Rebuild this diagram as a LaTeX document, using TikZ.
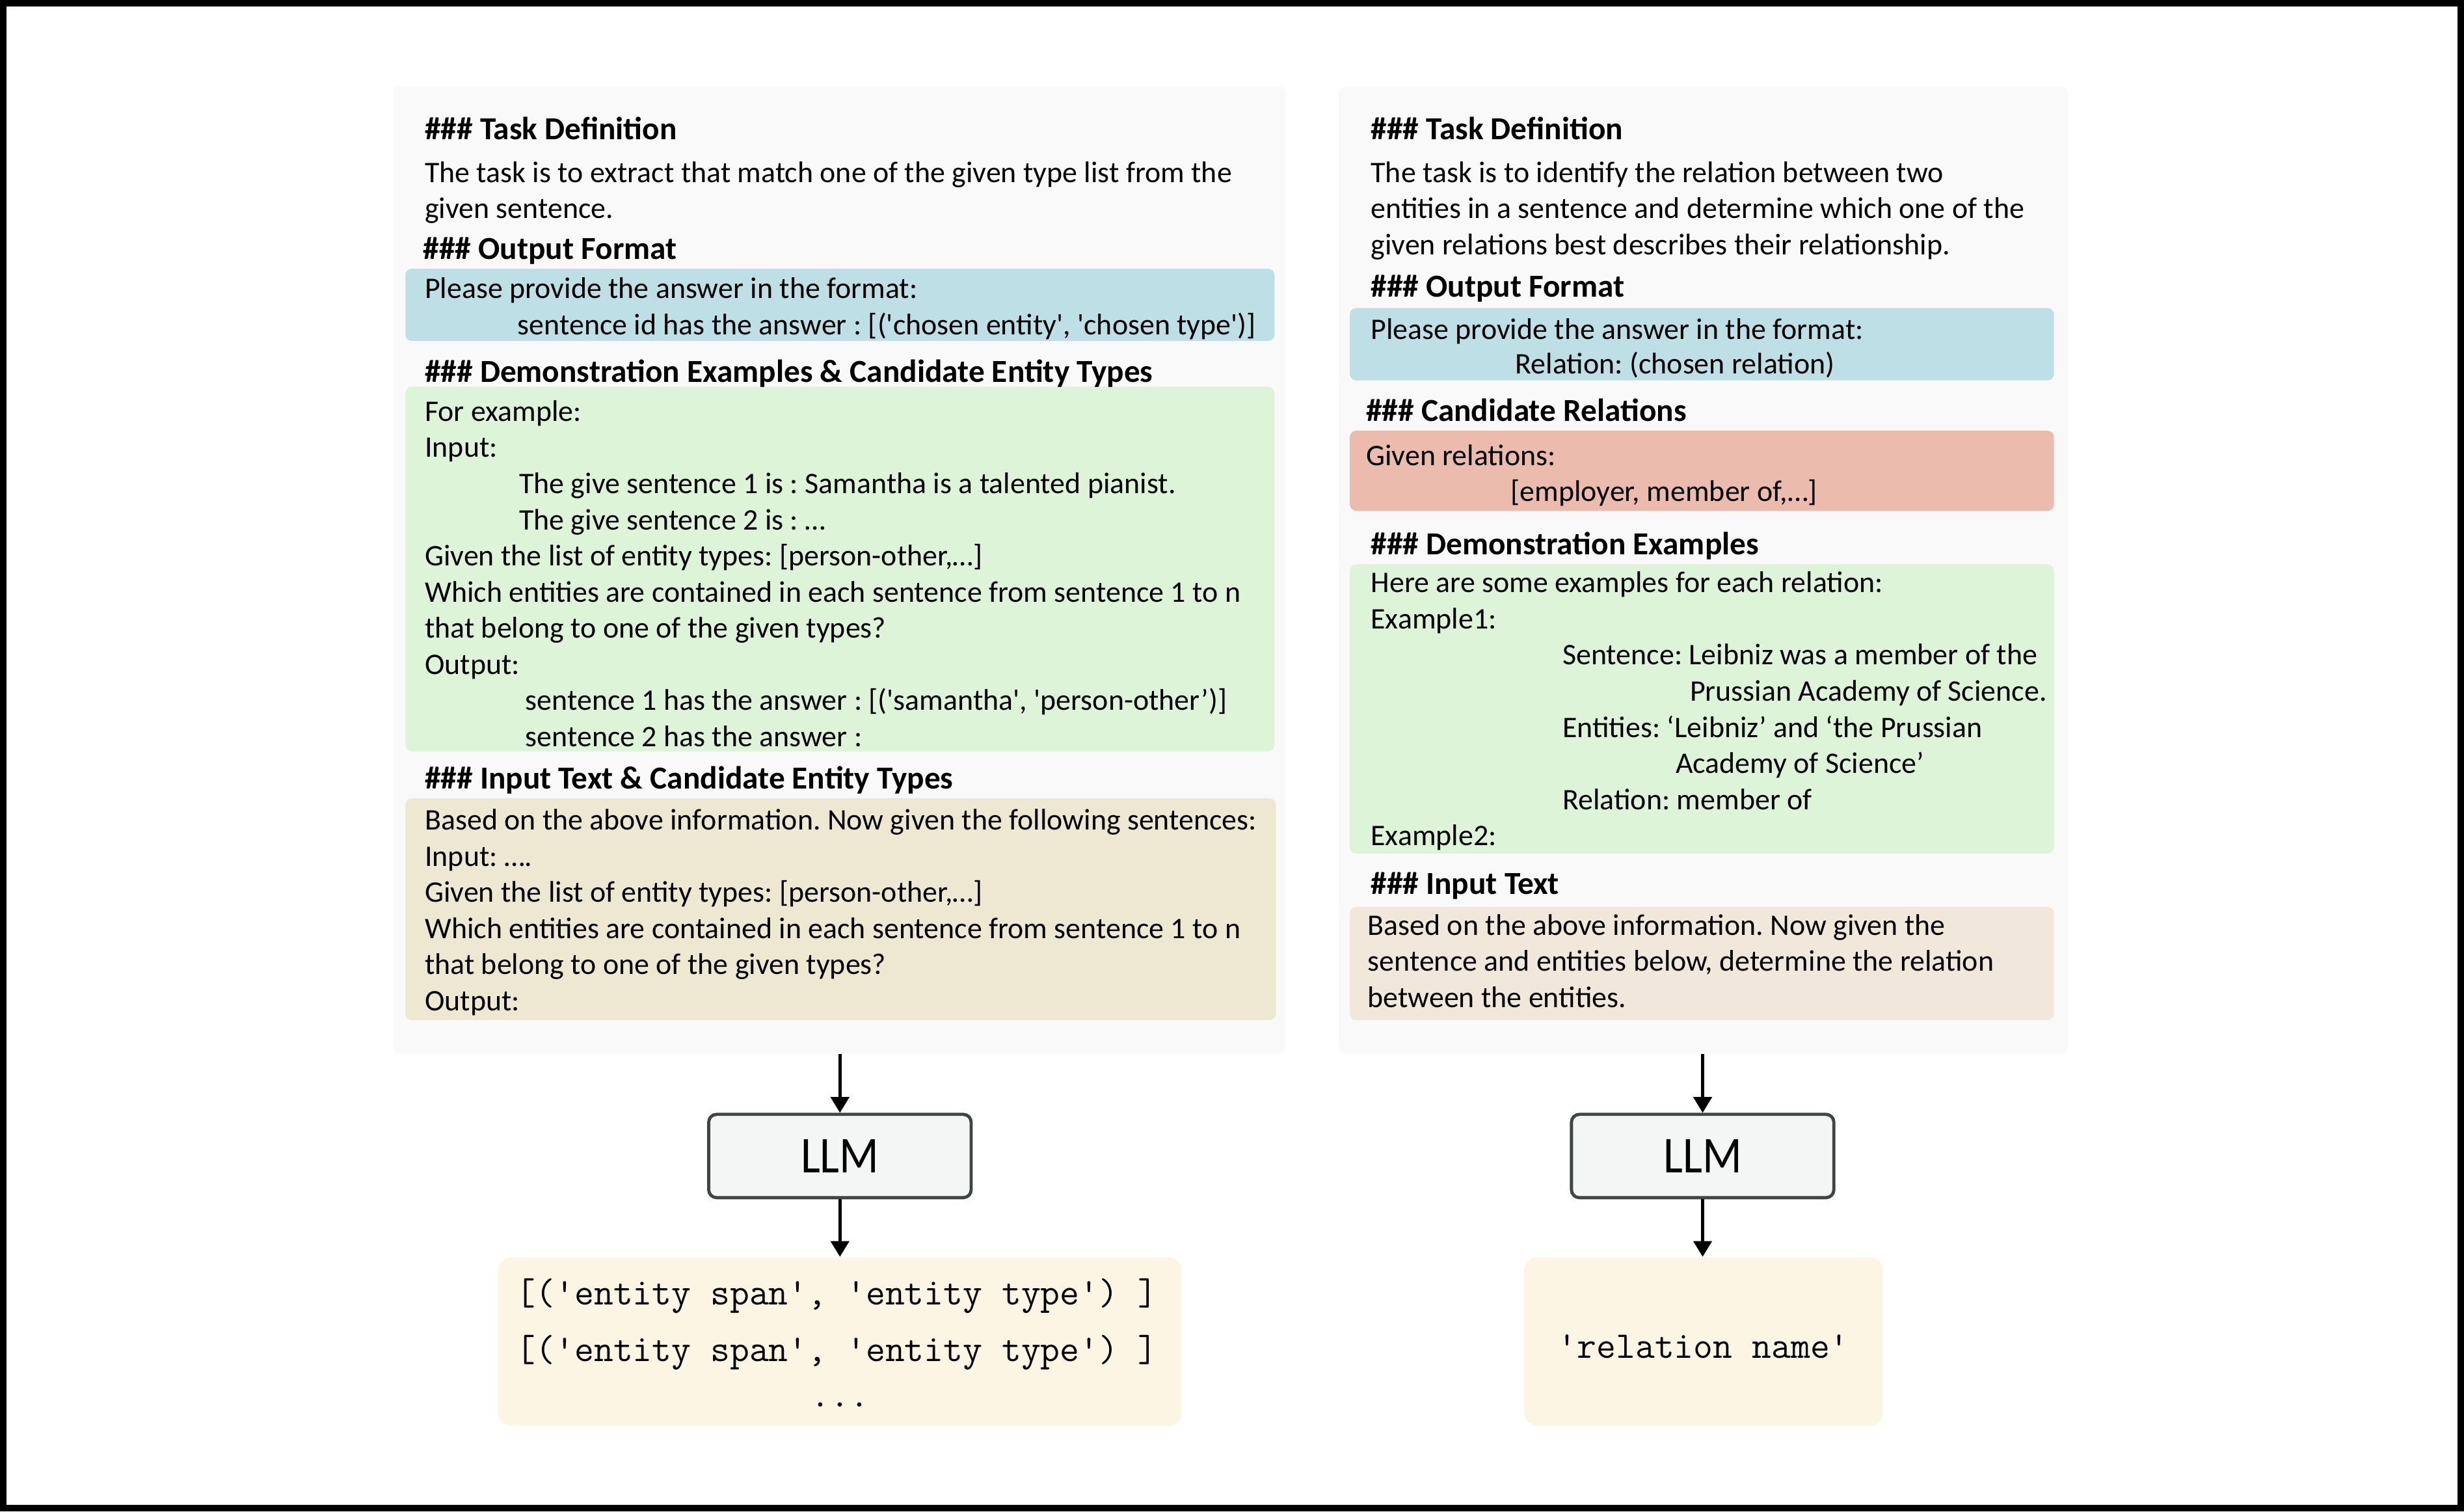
\documentclass[tikz,border=0pt]{standalone}
\usepackage{fontspec}
\setmainfont{Carlito}[Ligatures=TeXOff]
\usetikzlibrary{arrows.meta,fit}
\definecolor{panelbg}{HTML}{F9F9F9}
\definecolor{bluebox}{HTML}{BEDFE6}
\definecolor{greenbox}{HTML}{DDF4D8}
\definecolor{tanL}{HTML}{EEE8D2}
\definecolor{tanR}{HTML}{F1E8DB}
\definecolor{redbox}{HTML}{EBBBAE}
\definecolor{outbg}{HTML}{FDF5E3}
\definecolor{llmfill}{HTML}{F4F6F5}
\definecolor{llmdraw}{HTML}{3E4545}
\newcommand\fsz{\fontsize{9.5}{11.5}\selectfont\frenchspacing}
\newcommand\hsz{\fontsize{10.2}{12}\selectfont\bfseries\frenchspacing}
\begin{document}
\begin{tikzpicture}[x=0.5pt,y=-0.5pt,
  txt/.style={anchor=base west,inner sep=0pt,font=\fsz},
  hd/.style={anchor=base west,inner sep=0pt,font=\hsz},
  panel/.style={inner sep=0pt,fill=panelbg,rounded corners=2pt},
  bx/.style={inner sep=0pt,rounded corners=2pt},
  outbox/.style={inner sep=0pt,fill=outbg,rounded corners=4pt},
  llm/.style={draw=llmdraw,line width=1pt,fill=llmfill,rounded corners=2.5pt,
    minimum width=83.5pt,minimum height=26.5pt,inner sep=0pt,
    font=\fontsize{14.7}{16}\selectfont},
  mono/.style={anchor=base,inner sep=0pt,font=\ttfamily\fontsize{12}{13}\selectfont},
  arr/.style={line width=1pt,-{Triangle[length=5pt,width=5.8pt]}}]
\useasboundingbox (0,0) rectangle (1568,961.6);
\draw[line width=2pt] (2,2) rectangle (1566,959.6);
% ---------------- left panel ----------------
\node[panel,fit={(250,55)(818,670)}] (lp) {};
\node[bx,fill=bluebox,fit={(258,171)(811,217)}] (lblue) {};
\node[bx,fill=greenbox,fit={(258,246)(811,478)}] (lgreen) {};
\node[bx,fill=tanL,fit={(258,508)(812,649)}] (ltan) {};
\node[hd] (l1) at (270,89) {\#\#\# Task Definition};
\node[txt] (l2) at (270,116) {The task is to extract that match one of the given type list from the};
\node[txt] (l3) at (270,139) {given sentence.};
\node[hd] (l4) at (269,165) {\#\#\# Output Format};
\node[txt] (l5) at (270,190) {Please provide the answer in the format:};
\node[txt] (l6) at (329,213) {sentence id has the answer : [('chosen entity', 'chosen type')]};
\node[hd] (l7) at (270,243) {\#\#\# Demonstration Examples \& Candidate Entity Types};
\node[txt] (l8) at (270,268) {For example:};
\node[txt] (l9) at (270,291) {Input:};
\node[txt] (l10) at (330,314) {The give sentence 1 is : Samantha is a talented pianist.};
\node[txt] (l11) at (330,337) {The give sentence 2 is : …};
\node[txt] (l12) at (270,360) {Given the list of entity types: [person-other,…]};
\node[txt] (l13) at (270,383) {Which entities are contained in each sentence from sentence 1 to n};
\node[txt] (l14) at (270,406) {that belong to one of the given types?};
\node[txt] (l15) at (270,429) {Output:};
\node[txt] (l16) at (334,452) {sentence 1 has the answer : [('samantha', 'person-other’)]};
\node[txt] (l17) at (334,475) {sentence 2 has the answer :};
\node[hd] (l18) at (270,502) {\#\#\# Input Text \& Candidate Entity Types};
\node[txt] (l19) at (270,528) {Based on the above information. Now given the following sentences:};
\node[txt] (l20) at (270,551) {Input: ….};
\node[txt] (l21) at (270,574) {Given the list of entity types: [person-other,…]};
\node[txt] (l22) at (270,597) {Which entities are contained in each sentence from sentence 1 to n};
\node[txt] (l23) at (270,620) {that belong to one of the given types?};
\node[txt] (l24) at (270,643) {Output:};
% ---------------- right panel ----------------
\node[panel,fit={(852,55)(1316,670)}] (rp) {};
\node[bx,fill=bluebox,fit={(859,196)(1307,242)}] (rblue) {};
\node[bx,fill=redbox,fit={(859,274)(1307,325)}] (rred) {};
\node[bx,fill=greenbox,fit={(859,359)(1307,543)}] (rgreen) {};
\node[bx,fill=tanR,fit={(859,577)(1307,649)}] (rtan) {};
\node[hd] (r1) at (872,89) {\#\#\# Task Definition};
\node[txt] (r2) at (872,116) {The task is to identify the relation between two};
\node[txt] (r3) at (872,139) {entities in a sentence and determine which one of the};
\node[txt] (r4) at (872,162) {given relations best describes their relationship.};
\node[hd] (r5) at (872,189) {\#\#\# Output Format};
\node[txt] (r6) at (872,216) {Please provide the answer in the format:};
\node[txt] (r7) at (964,238) {Relation: (chosen relation)};
\node[hd] (r8) at (869,268) {\#\#\# Candidate Relations};
\node[txt] (r9) at (869,296) {Given relations:};
\node[txt] (r10) at (961,319) {[employer, member of,…]};
\node[hd] (r11) at (872,353) {\#\#\# Demonstration Examples};
\node[txt] (r12) at (872,377) {Here are some examples for each relation:};
\node[txt] (r13) at (872,400) {Example1:};
\node[txt] (r14) at (994,423) {Sentence: Leibniz was a member of the};
\node[txt] (r15) at (1075,446) {Prussian Academy of Science.};
\node[txt] (r16) at (994,469) {Entities: ‘Leibniz’ and ‘the Prussian};
\node[txt] (r17) at (1066,492) {Academy of Science’};
\node[txt] (r18) at (994,515) {Relation: member of};
\node[txt] (r19) at (872,538) {Example2:};
\node[hd] (r20) at (872,569) {\#\#\# Input Text};
\node[txt] (r21) at (870,595) {Based on the above information. Now given the};
\node[txt] (r22) at (870,618) {sentence and entities below, determine the relation};
\node[txt] (r23) at (870,641) {between the entities.};
% ---------------- LLM + outputs ----------------
\node[llm] (llmL) at (534.5,735.5) {\scalebox{1}[1.12]{LLM}};
\node[llm] (llmR) at (1083.5,735.5) {\scalebox{1}[1.12]{LLM}};
\node[outbox,fit={(317,800)(752,907)}] (outL) {};
\node[outbox,fit={(970,800)(1198,907)}] (outR) {};
\node[mono] (o1) at (532.5,830) {[('entity span', 'entity type') ]};
\node[mono] (o2) at (532.5,866) {[('entity span', 'entity type') ]};
\node[mono] (o3) at (534.5,895) {...};
\node[mono] (o4) at (1084,864) {'relation name'};
\draw[arr] (lp.south -| llmL) -- (llmL.north);
\draw[arr] (llmL.south) -- (outL.north -| llmL);
\draw[arr] (rp.south -| llmR) -- (llmR.north);
\draw[arr] (llmR.south) -- (outR.north -| llmR);
\end{tikzpicture}
\end{document}
